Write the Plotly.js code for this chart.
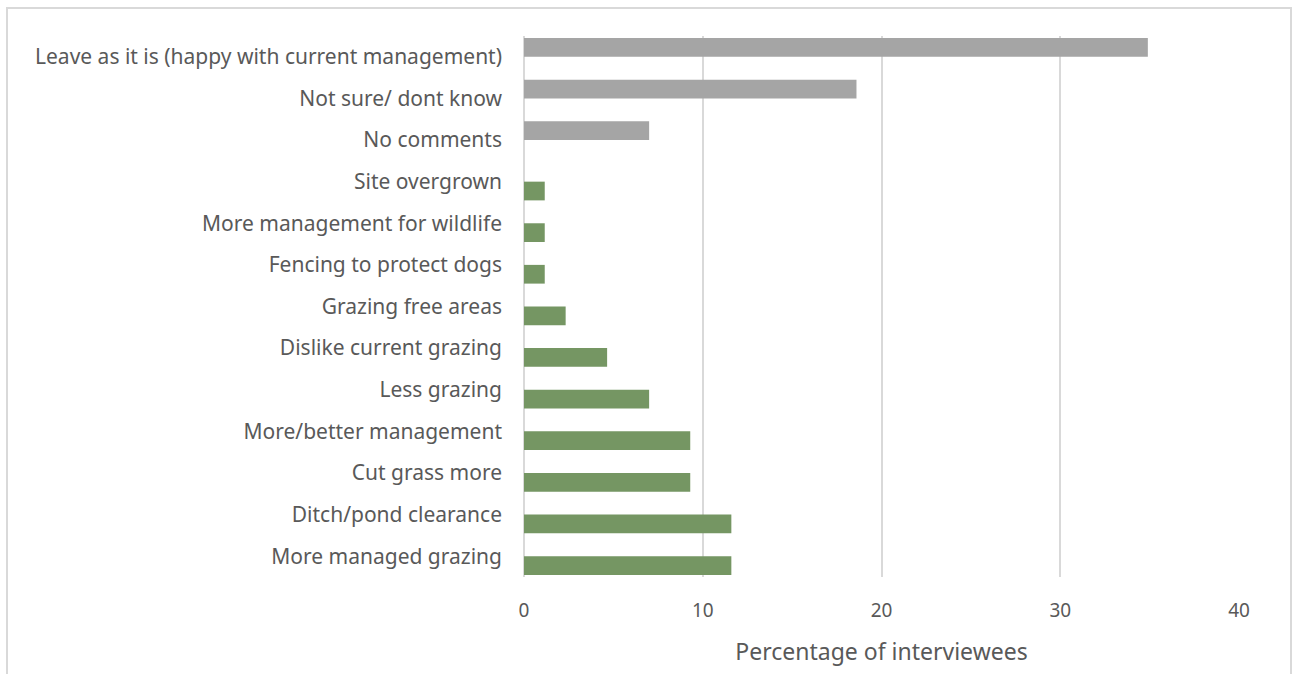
<!DOCTYPE html>
<html>
<head>
<meta charset="utf-8">
<script src="https://cdn.plot.ly/plotly-3.0.1.min.js"></script>
<style>
  html, body { margin: 0; padding: 0; background: #fff; }
  #wrap { position: relative; width: 1295px; height: 674px; overflow: hidden; }
  #frame { position: absolute; left: 6px; top: 7px; width: 1286px; height: 700px; border: 2px solid #d9d9d9; box-sizing: border-box; pointer-events: none; }
  #chart { position: absolute; left: 0; top: 0; width: 1295px; height: 674px; }
</style>
</head>
<body>
<div id="wrap">
  <div id="chart"></div>
  <div id="frame"></div>
</div>
<script>
// Categories, bottom to top
const categories = [
  "More managed grazing",
  "Ditch/pond clearance",
  "Cut grass more",
  "More/better management",
  "Less grazing",
  "Dislike current grazing",
  "Grazing free areas",
  "Fencing to protect dogs",
  "More management for wildlife",
  "Site overgrown",
  "No comments",
  "Not sure/ dont know",
  "Leave as it is (happy with current management)"
];
// Suggestions (green series)
const suggestionValues = [11.6, 11.6, 9.3, 9.3, 7.0, 4.65, 2.33, 1.16, 1.16, 1.16, null, null, null];
// Neutral responses (gray series)
const neutralValues = [null, null, null, null, null, null, null, null, null, null, 7.0, 18.6, 34.9];
const xTicks = [0, 10, 20, 30, 40];

const font = "'Noto Sans', 'Open Sans', sans-serif";

const traces = [
  {
    type: 'bar', orientation: 'h', y: categories, x: suggestionValues,
    marker: { color: '#759663' }, hoverinfo: 'x+y', name: 'Suggestions'
  },
  {
    type: 'bar', orientation: 'h', y: categories, x: neutralValues,
    marker: { color: '#a5a5a5' }, hoverinfo: 'x+y', name: 'Neutral'
  }
];

const layout = {
  width: 1295, height: 674,
  margin: { l: 524, r: 56, t: 36, b: 97 },
  paper_bgcolor: '#ffffff', plot_bgcolor: '#ffffff',
  showlegend: false,
  barmode: 'group', bargap: 0.1, bargroupgap: 0,
  font: { family: font, color: '#595959', size: 20 },
  xaxis: {
    range: [0, 40], tickvals: xTicks, ticktext: xTicks.map(String),
    showgrid: true, gridcolor: '#d9d9d9', gridwidth: 2,
    zeroline: true, zerolinecolor: '#d9d9d9', zerolinewidth: 2,
    showline: false, ticks: '',
    ticklabelstandoff: 20,
    tickfont: { family: font, size: 19, color: '#595959' },
    title: { text: 'Percentage of interviewees', font: { family: font, size: 23, color: '#595959' }, standoff: 21 },
    fixedrange: true
  },
  yaxis: {
    type: 'category', categoryorder: 'array', categoryarray: categories,
    showgrid: false, zeroline: false, showline: false, ticks: '',
    ticklabelstandoff: 21,
    tickfont: { family: font, size: 21, color: '#595959' },
    fixedrange: true
  }
};

Plotly.newPlot('chart', traces, layout, { displayModeBar: false, staticPlot: true });
</script>
</body>
</html>
